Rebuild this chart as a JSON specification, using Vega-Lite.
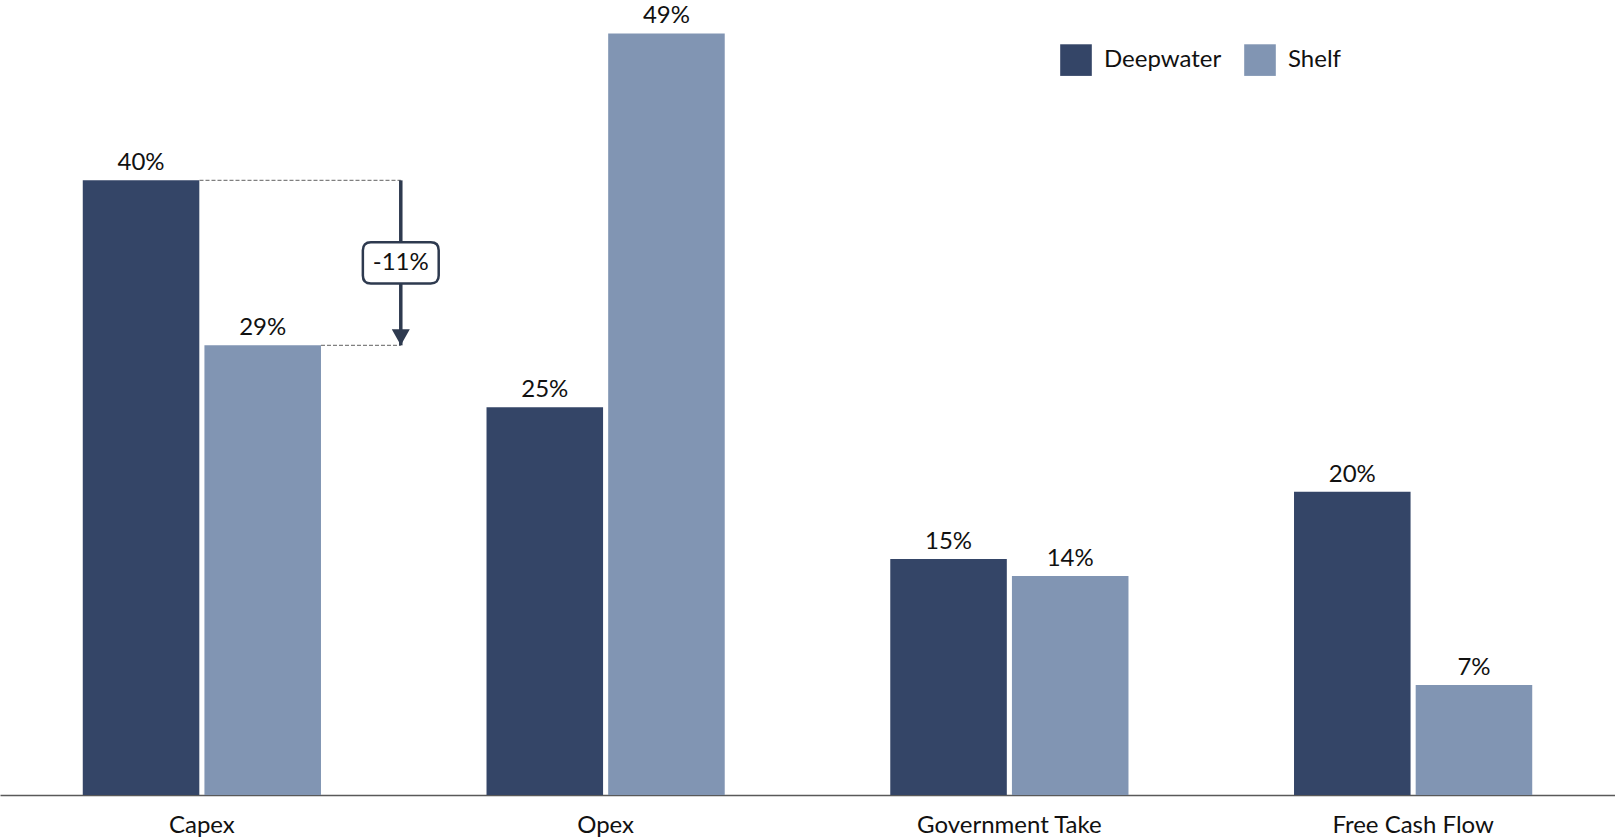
{
  "$schema": "https://vega.github.io/schema/vega-lite/v6.json",
  "width": 1615,
  "height": 795,
  "autosize": {"type": "none"},
  "padding": {"left": 0, "top": 0, "right": 0, "bottom": 44},
  "background": "white",
  "config": {
    "view": {"stroke": null},
    "font": "Lato",
    "text": {"font": "Lato"},
    "axisX": {
      "title": null,
      "ticks": false,
      "tickSize": 0,
      "labelAngle": 0,
      "labelFont": "Lato",
      "labelFontSize": 24,
      "labelColor": "#111111",
      "labelBaseline": "alphabetic",
      "labelPadding": 37,
      "labelLimit": 400,
      "domainColor": "#595959",
      "domainWidth": 1.6,
      "grid": false
    }
  },
  "datasets": {
    "bars": [
      {"category": "Capex", "series": "Deepwater", "value": 39.53, "label": "40%"},
      {"category": "Capex", "series": "Shelf", "value": 28.92, "label": "29%"},
      {"category": "Opex", "series": "Deepwater", "value": 24.93, "label": "25%"},
      {"category": "Opex", "series": "Shelf", "value": 48.98, "label": "49%"},
      {"category": "Government Take", "series": "Deepwater", "value": 15.18, "label": "15%"},
      {"category": "Government Take", "series": "Shelf", "value": 14.08, "label": "14%"},
      {"category": "Free Cash Flow", "series": "Deepwater", "value": 19.5, "label": "20%"},
      {"category": "Free Cash Flow", "series": "Shelf", "value": 7.07, "label": "7%"}
    ],
    "annot": [
      {"category": "Capex", "from": 39.53, "to": 28.92, "label": "-11%"}
    ]
  },
  "layer": [
    {
      "data": {"name": "bars"},
      "mark": {"type": "bar"},
      "encoding": {
        "x": {
          "field": "category",
          "type": "nominal",
          "title": null,
          "scale": {
            "domain": ["Capex", "Opex", "Government Take", "Free Cash Flow"],
            "paddingInner": 0.41,
            "paddingOuter": 0.205
          }
        },
        "xOffset": {"field": "series", "type": "nominal", "scale": {"paddingInner": 0.042, "paddingOuter": 0}},
        "y": {"field": "value", "type": "quantitative", "scale": {"domain": [0, 51.13], "nice": false, "zero": true}, "axis": null},
        "color": {
          "field": "series",
          "type": "nominal",
          "scale": {"domain": ["Deepwater", "Shelf"], "range": ["#344567", "#8195B3"]},
          "legend": {
            "title": null,
            "orient": "none",
            "legendX": 1060,
            "legendY": 44,
            "direction": "horizontal",
            "symbolType": "square",
            "symbolSize": 1000,
            "symbolStrokeWidth": 0,
            "labelFont": "Lato",
            "labelFontSize": 24,
            "labelColor": "#111111",
            "labelOffset": 12,
            "columnPadding": 22,
            "padding": 0
          }
        }
      }
    },
    {
      "data": {"name": "bars"},
      "mark": {"type": "text", "baseline": "alphabetic", "align": "center", "dy": -10, "fontSize": 24, "color": "#111111"},
      "encoding": {
        "x": {"field": "category", "type": "nominal", "title": null},
        "xOffset": {"field": "series", "type": "nominal", "scale": {"paddingInner": 0.042, "paddingOuter": 0}},
        "y": {"field": "value", "type": "quantitative", "axis": null},
        "text": {"field": "label", "type": "nominal"}
      }
    },
    {
      "data": {"name": "annot"},
      "mark": {"type": "rule", "color": "#808080", "strokeWidth": 1.3, "strokeDash": [4, 2]},
      "encoding": {
        "x": {"field": "category", "type": "nominal", "bandPosition": 0.49, "title": null},
        "x2": {"field": "category", "bandPosition": 1.335},
        "y": {"field": "from", "type": "quantitative", "axis": null}
      }
    },
    {
      "data": {"name": "annot"},
      "mark": {"type": "rule", "color": "#808080", "strokeWidth": 1.3, "strokeDash": [4, 2]},
      "encoding": {
        "x": {"field": "category", "type": "nominal", "bandPosition": 1.0, "title": null},
        "x2": {"field": "category", "bandPosition": 1.335},
        "y": {"field": "to", "type": "quantitative", "axis": null}
      }
    },
    {
      "data": {"name": "annot"},
      "mark": {"type": "rule", "color": "#2e3a4f", "strokeWidth": 3.5},
      "encoding": {
        "x": {"field": "category", "type": "nominal", "bandPosition": 1.335, "title": null},
        "y": {"field": "from", "type": "quantitative", "axis": null},
        "y2": {"field": "to"}
      }
    },
    {
      "data": {"name": "annot"},
      "mark": {"type": "point", "filled": true, "opacity": 1, "color": "#2e3a4f", "size": 6400, "shape": "M-0.225,-0.4L0.225,-0.4L0,0Z"},
      "encoding": {
        "x": {"field": "category", "type": "nominal", "bandPosition": 1.335, "title": null},
        "y": {"field": "to", "type": "quantitative", "axis": null}
      }
    },
    {
      "data": {"name": "annot"},
      "transform": [{"calculate": "(datum.from + datum.to) / 2", "as": "mid"}],
      "mark": {"type": "point", "filled": true, "opacity": 1, "fill": "white", "stroke": "#2e3a4f", "strokeWidth": 2.5, "size": 6400, "shape": "M-0.748,-0.514L0.748,-0.514Q0.948,-0.514 0.948,-0.314L0.948,0.314Q0.948,0.514 0.748,0.514L-0.748,0.514Q-0.948,0.514 -0.948,0.314L-0.948,-0.314Q-0.948,-0.514 -0.748,-0.514Z"},
      "encoding": {
        "x": {"field": "category", "type": "nominal", "bandPosition": 1.335, "title": null},
        "y": {"field": "mid", "type": "quantitative", "axis": null}
      }
    },
    {
      "data": {"name": "annot"},
      "transform": [{"calculate": "(datum.from + datum.to) / 2", "as": "mid"}],
      "mark": {"type": "text", "align": "center", "baseline": "middle", "fontSize": 24, "color": "#111111"},
      "encoding": {
        "x": {"field": "category", "type": "nominal", "bandPosition": 1.335, "title": null},
        "y": {"field": "mid", "type": "quantitative", "axis": null},
        "text": {"field": "label", "type": "nominal"}
      }
    }
  ]
}
